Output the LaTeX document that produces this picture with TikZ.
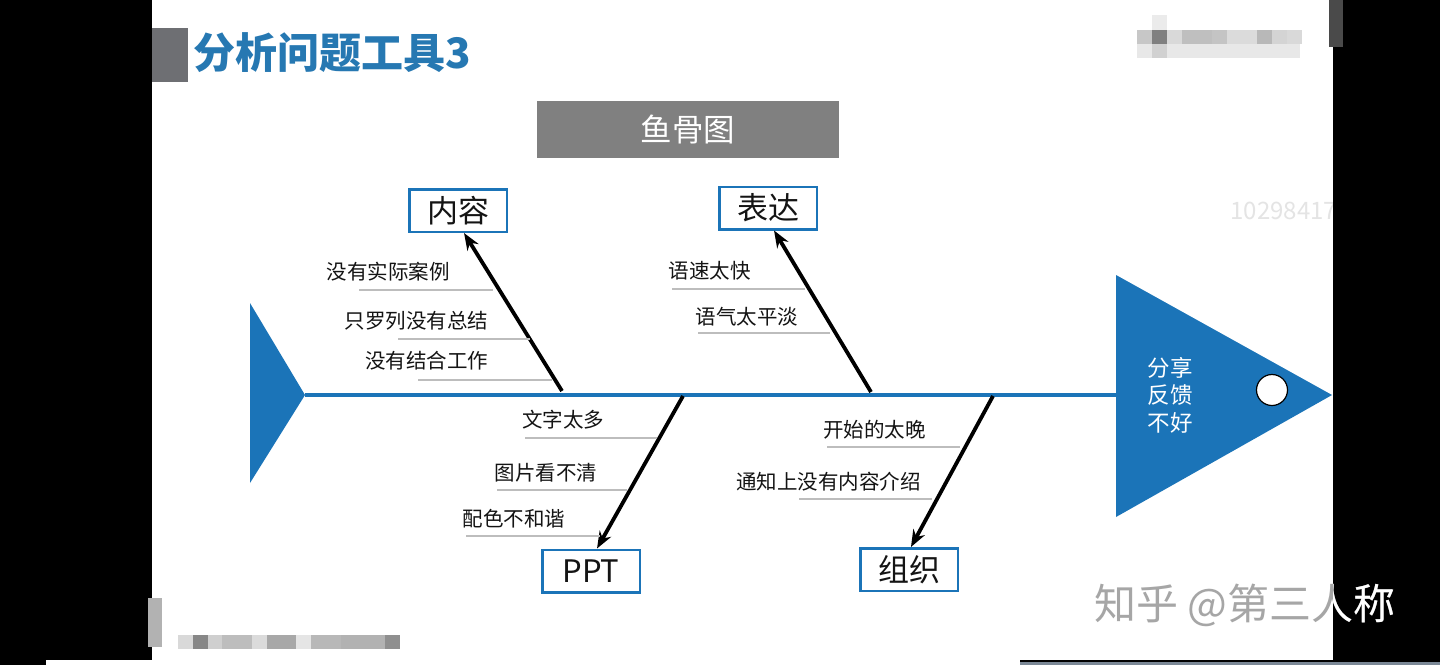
\documentclass[tikz,border=0pt]{standalone}
\usepackage{fontspec}
\setmainfont{Noto Sans CJK SC}
\usetikzlibrary{arrows.meta}
\definecolor{fischblau}{HTML}{1B74B8}
\definecolor{titelblau}{HTML}{2678B2}
\definecolor{balkengrau}{HTML}{6E6F73}
\definecolor{kopfgrau}{HTML}{808080}
\definecolor{strichgrau}{HTML}{BDBDBD}
\definecolor{tinte}{HTML}{141414}
\definecolor{wasser}{HTML}{E4E4E4}
\definecolor{zeichen}{HTML}{A6A6A6}
\definecolor{randgrau}{HTML}{7B8896}
\definecolor{dunkelgrau}{HTML}{4A4A4A}
\newcommand{\gr}[1]{\fontsize{#1}{#1}\selectfont}
\tikzset{kategorie/.style={draw=fischblau,line width=2.5pt,fill=white,
    minimum width=97.5pt,minimum height=42.5pt,inner sep=0,font=\gr{31},text=tinte},
  ursache/.style={inner sep=0,font=\gr{20.5},text=tinte},
  strich/.style={strichgrau,line width=1.2pt},
  graete/.style={fischblau,line width=4pt},
  pfeil/.style={line width=3.8pt,-{Stealth[length=17pt,width=13pt]}}}
% name, text x, text y, strich x1, x2, strich y, text
\newcommand{\ursache}[7]{\node[ursache] (#1) at (#2,#3) {#7};
  \coordinate (#1-a) at (#4,#6);
  \coordinate (#1-b) at (#5,#6);
  \draw[strich] (#1-a) -- (#1-b);}

\begin{document}
\begin{tikzpicture}[x=1pt,y=-1pt]
\useasboundingbox (0,0) rectangle (1440,665);
% Bildschirm und Folie
\fill[black] (0,0) rectangle (1440,665);
\fill[white] (152,0) rectangle (1333,660);
\fill[white] (46,660) rectangle (1020,665);
\fill[randgrau] (1020,661.5) rectangle (1440,665);
\fill[dunkelgrau] (1329,0) rectangle (1343,47);
% verpixelte Logos
\foreach \i/\g in {0/22,1/50,2/15,3/25,4/25,5/23,6/14,7/14,8/28,9/17,10/15}
  \fill[black!\g] (1137+15*\i,30) rectangle +(15,14);
\fill[black!9] (1137,44) rectangle (1300,58);
\fill[black!18] (1152,44) rectangle +(15,14);
\fill[black!8] (1152,15) rectangle +(15,15);
\fill[black!30] (148,598) rectangle (162,647);
\foreach \i/\g in {0/15,1/47,2/19,3/26,4/26,5/14,6/34,7/34,8/10,9/28,10/28,11/30,12/30,13/30,14/44}
  \fill[black!\g] (178+14.8*\i,635) rectangle +(14.8,14);
\node[font=\gr{24},text=wasser] (nummer) at (1297,211) {1029841759};
\fill[black] (1333,57) rectangle (1440,300);

% Titel
\fill[balkengrau] (152,28) rectangle (188,82);
\node[anchor=west,inner sep=0,text=titelblau,font=\gr{42}\bfseries] (titel) at (193,53) {分析问题工具3};
\node[fill=kopfgrau,minimum width=302pt,minimum height=57pt,inner sep=0,
  text=white,font=\gr{31.5}] (ueber) at (688,129.5) {鱼骨图};

% Fisch
\coordinate (schwanz) at (305,395);
\coordinate (kopf) at (1116,395);
\fill[fischblau] (250,303) -- (schwanz) -- (250,483) -- cycle;
\fill[fischblau] (1116,275) -- (1332,395) -- (1116,517) -- cycle;
\draw[graete] (schwanz) -- (kopf);
\node[circle,draw=black,fill=white,line width=1.2pt,minimum size=31pt,inner sep=0] (auge) at (1272,390) {};
\node[text=white,align=center,inner sep=0,font=\fontsize{22.5}{27.5}\selectfont] (problem) at (1170,395) {分享\\反馈\\不好};

% Kategorien
\node[kategorie] (inhalt) at (458,210.5) {内容};
\node[kategorie] (ausdruck) at (768,208) {表达};
\node[kategorie] (ppt) at (591,571) {PPT};
\node[kategorie] (orga) at (909,569.5) {组织};

\coordinate (k1) at (562,391);
\coordinate (k2) at (871,392);
\coordinate (k3) at (683,396);
\coordinate (k4) at (993,396);
\draw[pfeil] (k1) -- (inhalt.-75);
\draw[pfeil] (k2) -- (ausdruck.-75);
\draw[pfeil] (k3) -- (ppt.75);
\draw[pfeil] (k4) -- (orga.85);

% Ursachen
\ursache{u1}{388}{272}{359}{493}{290}{没有实际案例}
\ursache{u2}{416.5}{321}{398}{530}{339}{只罗列没有总结}
\ursache{u3}{426.5}{361}{418}{552}{380}{没有结合工作}
\ursache{u4}{709.5}{271}{672}{805}{289}{语速太快}
\ursache{u5}{747}{317}{698}{830}{333}{语气太平淡}
\ursache{u6}{563}{420}{525}{657}{438}{文字太多}
\ursache{u7}{546}{473}{497}{627}{490}{图片看不清}
\ursache{u8}{514}{519}{466}{600}{536}{配色不和谐}
\ursache{u9}{874.5}{430}{827}{960}{447}{开始的太晚}
\ursache{u10}{828.5}{482}{799}{932}{499}{通知上没有内容介绍}

% Wasserzeichen
\node[anchor=west,inner sep=0,font=\gr{42},text=zeichen] (marke) at (1094,605) {知乎 @第三人称};
\begin{scope}
  \clip (1333,560) rectangle (1440,660);
  \node[anchor=west,inner sep=0,font=\gr{42},text=white] (marke-w) at (1094,605) {知乎 @第三人称};
\end{scope}
\end{tikzpicture}
\end{document}
